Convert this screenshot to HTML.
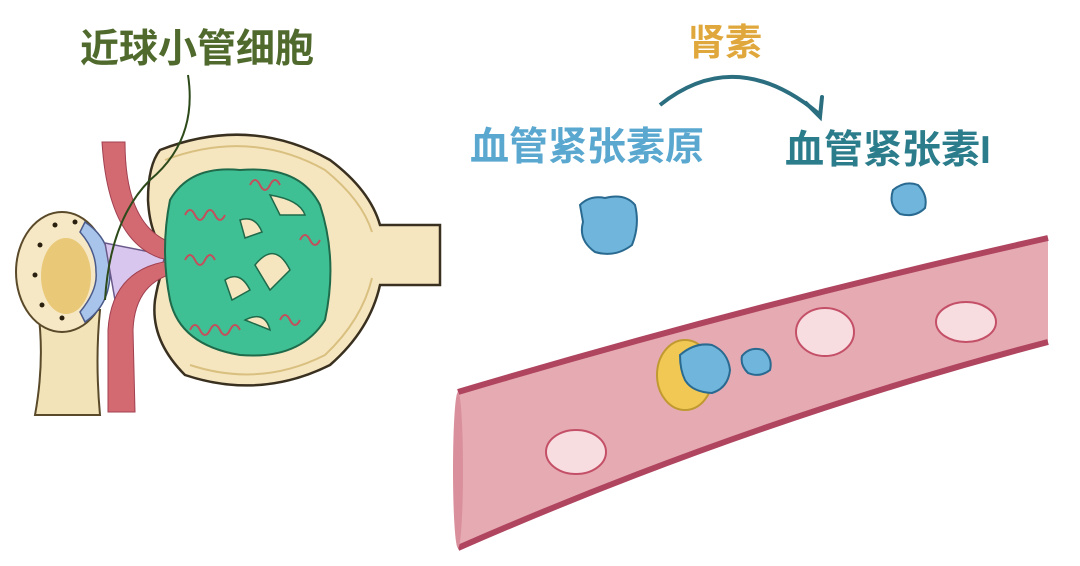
<!DOCTYPE html>
<html><head><meta charset="utf-8"><style>
body{margin:0;background:#fff;}
svg{display:block}
text{font-family:"Liberation Sans","Noto Sans CJK SC",sans-serif;font-weight:bold;}
</style></head><body>
<svg width="1080" height="566" viewBox="0 0 1080 566" xmlns="http://www.w3.org/2000/svg">
<rect width="1080" height="566" fill="#fff"/>
<!-- labels -->
<text x="80" y="62" font-size="39" fill="#4f6a2c">近球小管细胞</text>
<text x="688" y="55" font-size="37" fill="#e0a83c">肾素</text>
<text x="470" y="160" font-size="39" fill="#5aa8d0">血管紧张素原</text>
<text x="785" y="163" font-size="39" fill="#2c7d8c">血管紧张素I</text>
<path d="M660,105 Q735,45 818,113" fill="none" stroke="#2a6e80" stroke-width="4"/>
<path d="M806,103 L820,117 L822,97" fill="none" stroke="#2a6e80" stroke-width="4" stroke-linecap="round"/>
<!-- tubule -->
<path d="M38,310 Q45,360 35,415 L100,415 Q95,360 100,310 Z" fill="#f3e3b8" stroke="#5a4a2a" stroke-width="2"/>
<ellipse cx="62" cy="272" rx="46" ry="60" fill="#f6e8c4" stroke="#5a4a2a" stroke-width="2"/>
<ellipse cx="66" cy="276" rx="25" ry="38" fill="#e9c878"/>
<g fill="#2a2010"><circle cx="40" cy="245" r="2.5"/><circle cx="35" cy="275" r="2.5"/><circle cx="42" cy="305" r="2.5"/><circle cx="62" cy="318" r="2.5"/><circle cx="55" cy="225" r="2.5"/><circle cx="75" cy="222" r="2.5"/></g>
<path d="M85,222 Q112,240 110,272 Q110,305 85,322 L80,312 Q98,290 96,272 Q96,250 80,232 Z" fill="#a9c4ea" stroke="#4a5a8a" stroke-width="1.5"/>
<path d="M105,243 L165,255 L160,275 L115,300 Z" fill="#d9c6ee" stroke="#6a5a8a" stroke-width="1.5"/>
<!-- capsule -->
<path d="M160,150 Q250,115 330,160 Q370,190 380,225 L440,225 L440,285 L380,285 Q370,330 330,365 Q260,400 185,375 Q150,340 155,300 Q160,270 170,255 Q150,240 148,200 Q148,165 160,150 Z" fill="#f6e6c0" stroke="#3a3020" stroke-width="2.5"/>
<path d="M165,160 Q250,128 325,170 Q362,200 372,232 M372,278 Q362,320 325,355 Q260,388 190,365" fill="none" stroke="#d9c080" stroke-width="2"/>
<!-- vessels -->
<path d="M102,142 L125,142 Q125,220 165,240 L180,245 L178,262 L160,258 Q108,240 102,142 Z" fill="#d36a72" stroke="#a04050" stroke-width="1"/>
<path d="M180,272 Q135,280 133,330 L135,412 L108,412 L108,330 Q112,265 178,260 Z" fill="#d36a72" stroke="#a04050" stroke-width="1"/>
<!-- leader line -->
<path d="M188,75 Q198,140 150,180 Q110,220 105,300" fill="none" stroke="#2d4a1a" stroke-width="2"/>
<!-- glomerulus -->
<path d="M170,200 Q190,165 240,170 Q300,165 320,205 Q338,260 325,320 Q300,360 240,355 Q180,345 170,300 Q160,250 170,200 Z" fill="#3fc094" stroke="#1f6a4a" stroke-width="2"/>
<g fill="#f6e6c0" stroke="#1f6a4a" stroke-width="1.5">
<path d="M270,195 Q300,200 305,215 L280,215 Z"/>
<path d="M255,265 Q275,240 290,270 L270,290 Z"/>
<path d="M225,280 Q240,270 250,290 L232,300 Z"/>
<path d="M245,320 Q265,310 270,330 Z"/>
<path d="M240,220 Q255,215 262,232 L245,238 Z"/>
</g>
<g fill="none" stroke="#c2505c" stroke-width="2">
<path d="M185,215 q5,-10 10,0 q5,10 10,0 q5,-10 10,0 q5,10 10,0"/>
<path d="M190,330 q5,-10 10,0 q5,10 10,0 q5,-10 10,0 q5,10 10,0 q5,-10 10,0"/>
<path d="M250,185 q5,-10 10,0 q5,10 10,0 q5,-10 10,0"/>
<path d="M300,240 q5,-10 10,0 q5,10 10,0"/>
<path d="M185,260 q5,-10 10,0 q5,10 10,0 q5,-10 10,0"/>
<path d="M280,320 q5,-10 10,0 q5,10 10,0"/>
</g>
<!-- blood vessel -->
<path d="M458,392 Q750,305 1048,238 L1048,342 Q750,420 458,548 Z" fill="#e6aab2"/>
<path d="M458,392 Q750,305 1048,238" fill="none" stroke="#b04560" stroke-width="6"/>
<path d="M458,548 Q750,420 1048,342" fill="none" stroke="#b04560" stroke-width="6"/>
<ellipse cx="458" cy="470" rx="5" ry="78" fill="#d9909c"/>
<g fill="#f8dde0" stroke="#c45068" stroke-width="2">
<ellipse cx="576" cy="452" rx="30" ry="22"/>
<ellipse cx="825" cy="332" rx="29" ry="24"/>
<ellipse cx="966" cy="322" rx="30" ry="20"/>
</g>
<ellipse cx="685" cy="375" rx="28" ry="35" fill="#f2c855" stroke="#c09a30" stroke-width="2"/>
<g fill="#6fb5dc" stroke="#2a6a90" stroke-width="2">
<path d="M580,205 Q590,195 605,198 Q625,193 635,205 Q640,225 632,245 Q615,258 595,252 Q578,240 583,222 Z"/>
<path d="M893,190 Q905,180 918,185 Q928,195 925,208 Q915,218 900,214 Q888,205 893,190 Z"/>
<path d="M680,355 Q695,342 712,345 Q728,352 730,370 Q728,388 712,393 Q692,392 685,380 Q680,370 680,355 Z"/>
<path d="M742,356 Q750,346 763,350 Q773,358 770,370 Q760,378 748,373 Q740,365 742,356 Z"/>
</g>
</svg>
</body></html>
